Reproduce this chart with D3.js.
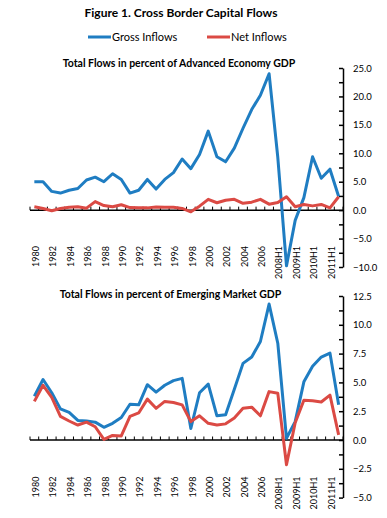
<!DOCTYPE html>
<html>
<head>
<meta charset="utf-8">
<script src="https://cdn.jsdelivr.net/npm/d3@7"></script>
<style>
  body { margin: 0; background: #fff; }
  svg { font-family: Lato, "Open Sans", sans-serif; }
</style>
</head>
<body>
<div id="chart-area"></div>
<script>
// categories: annual to 2007, half years after
const categories = ["1980", "1981", "1982", "1983", "1984", "1985", "1986", "1987", "1988", "1989",
  "1990", "1991", "1992", "1993", "1994", "1995", "1996", "1997", "1998", "1999",
  "2000", "2001", "2002", "2003", "2004", "2005", "2006", "2007",
  "2008H1", "2008H2", "2009H1", "2009H2", "2010H1", "2010H2", "2011H1", "2011H2"]

const advGross = [5.0, 5.0, 3.3, 3.0, 3.5, 3.8, 5.3, 5.8, 5.0, 6.4,
  5.4, 3.0, 3.5, 5.4, 3.7, 5.4, 6.6, 9.0, 7.3, 9.8,
  13.9, 9.4, 8.5, 10.9, 14.4, 17.7, 20.2, 24.0,
  9.3, -9.8, -1.8, 2.2, 9.4, 5.6, 7.2, 2.4]
const advNet = [0.6, 0.3, -0.1, 0.3, 0.5, 0.6, 0.35, 1.5, 0.8, 0.6,
  0.95, 0.45, 0.4, 0.4, 0.55, 0.5, 0.5, 0.3, -0.3, 0.7,
  1.9, 1.3, 1.75, 1.9, 1.2, 1.4, 1.9, 1.05,
  1.35, 2.35, 0.6, 1.0, 0.75, 1.0, 0.4, 2.35]

const emGross = [3.8, 5.25, 4.1, 2.7, 2.4, 1.7, 1.65, 1.55, 1.1, 1.45,
  1.95, 3.1, 3.05, 4.8, 4.15, 4.75, 5.15, 5.35, 1.0, 4.1,
  4.85, 2.1, 2.2, 4.4, 6.65, 7.2, 8.55, 11.8,
  8.4, 0.15, 1.6, 5.05, 6.4, 7.2, 7.55, 3.05]
const emNet = [3.35, 4.75, 3.7, 2.05, 1.65, 1.3, 1.55, 1.15, 0.05, 0.4,
  0.35, 2.05, 2.35, 3.55, 2.75, 3.35, 3.25, 3.05, 1.6, 2.1,
  1.45, 1.3, 1.4, 1.9, 2.75, 2.85, 2.1, 4.2,
  4.05, -2.15, 1.5, 3.45, 3.4, 3.3, 3.9, 0.45]

const labelled = ["1980", "1982", "1984", "1986", "1988", "1990", "1992", "1994", "1996", "1998",
  "2000", "2002", "2004", "2006", "2008H1", "2009H1", "2010H1", "2011H1"]
const advTicks = [-10, -7.5, -5, -2.5, 0, 2.5, 5, 7.5, 10, 12.5, 15, 17.5, 20, 22.5, 25]
const advLabels = [-10, -5, 0, 5, 10, 15, 20, 25]
const emTicks = [-5, -3.75, -2.5, -1.25, 0, 1.25, 2.5, 3.75, 5, 6.25, 7.5, 8.75, 10, 11.25, 12.5]
const emLabels = [-5, -2.5, 0, 2.5, 5, 7.5, 10, 12.5]

const WIDTH = 387
const HEIGHT = 518
const BLUE = "#1f7dc2"
const RED = "#db4a44"

const svg = d3.select("#chart-area").append("svg")
    .attr("width", WIDTH)
    .attr("height", HEIGHT)

// Title
svg.append("text")
    .attr("x", 181)
    .attr("y", 17)
    .attr("font-size", "12px")
    .attr("font-weight", "bold")
    .attr("text-anchor", "middle")
    .text("Figure 1. Cross Border Capital Flows")

// Legend
const legend = [
  {name: "Gross Inflows", color: BLUE, x: 88},
  {name: "Net Inflows", color: RED, x: 207}
]
legend.forEach(l => {
  svg.append("line")
      .attr("x1", l.x).attr("x2", l.x + 23)
      .attr("y1", 37).attr("y2", 37)
      .attr("stroke", l.color)
      .attr("stroke-width", 3)
  svg.append("text")
      .attr("x", l.x + 24)
      .attr("y", 40.5)
      .attr("font-size", "11px")
      .text(l.name)
})

const x = d3.scaleBand()
    .domain(categories)
    .range([30, 343])

function panel(opts) {
  const g = svg.append("g")

  g.append("text")
      .attr("x", opts.titleX)
      .attr("y", opts.titleY)
      .attr("font-size", "10.5px")
      .attr("font-weight", "bold")
      .attr("text-anchor", "middle")
      .text(opts.title)

  const y = d3.scaleLinear()
      .domain(opts.domain)
      .range(opts.range)

  // right value axis
  const yAxisCall = d3.axisRight(y)
      .tickValues(opts.ticks)
      .tickSizeInner(-4)
      .tickSizeOuter(0)
      .tickPadding(10)
      .tickFormat(v => opts.labels.includes(v) ? d3.format(".1f")(v) : "")
  const ya = g.append("g")
      .attr("transform", "translate(343, 0)")
      .call(yAxisCall)
  ya.select(".domain").attr("stroke", "#000").attr("stroke-width", 1.5)
  ya.selectAll(".tick line").attr("stroke", "#000").attr("stroke-width", 1.5)
  ya.selectAll("text").attr("font-size", "9.5px").attr("font-family", "Lato")

  // category labels, low position
  const xAxisCall = d3.axisBottom(x)
      .tickValues(labelled)
      .tickSize(0)
  const xa = g.append("g")
      .attr("transform", `translate(1.5, ${opts.labelTop})`)
      .call(xAxisCall)
  xa.select(".domain").remove()
  xa.selectAll("text")
      .attr("font-size", "9px")
      .attr("font-family", "Lato")
      .attr("x", 0)
      .attr("y", 0)
      .attr("dy", "0.35em")
      .attr("text-anchor", "end")
      .attr("transform", "rotate(-90)")

  // zero line with boundary ticks
  const y0 = y(0)
  g.append("line")
      .attr("x1", x.range()[0]).attr("x2", x.range()[1])
      .attr("y1", y0).attr("y2", y0)
      .attr("stroke", "#000")
      .attr("stroke-width", 1.5)
  const edges = categories.map(c => x(c)).concat([x.range()[1]])
  g.selectAll(".cat-tick")
      .data(edges)
      .enter().append("line")
      .attr("class", "cat-tick")
      .attr("x1", d => d).attr("x2", d => d)
      .attr("y1", y0).attr("y2", y0 - 3.5)
      .attr("stroke", "#000")
      .attr("stroke-width", 1)

  const line = d3.line()
      .x((d, i) => x(categories[i]) + x.bandwidth() / 2)
      .y(d => y(d))

  // gross first, net drawn over it
  opts.series.forEach(s => {
    g.append("path")
        .datum(s.values)
        .attr("fill", "none")
        .attr("stroke", s.color)
        .attr("stroke-width", 3)
        .attr("stroke-linejoin", "round")
        .attr("d", line)
  })
}

panel({
  title: "Total Flows in percent of Advanced Economy GDP",
  titleX: 179, titleY: 67,
  domain: [-10, 25], range: [267, 68],
  ticks: advTicks, labels: advLabels,
  labelTop: 246,
  series: [{values: advGross, color: BLUE}, {values: advNet, color: RED}]
})

panel({
  title: "Total Flows in percent of Emerging Market GDP",
  titleX: 170.5, titleY: 298,
  domain: [-5, 12.5], range: [497.6, 296],
  ticks: emTicks, labels: emLabels,
  labelTop: 476.5,
  series: [{values: emGross, color: BLUE}, {values: emNet, color: RED}]
})
</script>
</body>
</html>
